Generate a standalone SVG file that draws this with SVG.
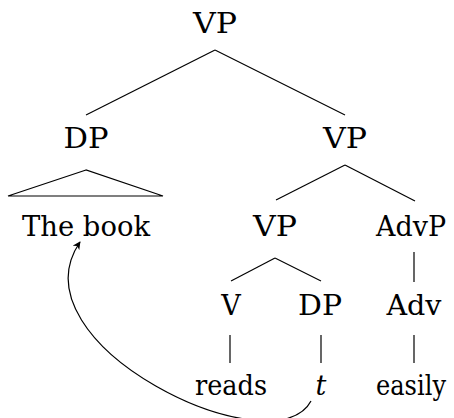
<svg xmlns="http://www.w3.org/2000/svg" width="454" height="418" viewBox="0 0 454 418">
  <style>
    .lbl { font-family: "DejaVu Serif", "Liberation Serif", serif; font-size: 27px; fill: #000; text-anchor: middle; }
    .it { font-style: italic; }
    .edge { stroke: #000; stroke-width: 1.2; fill: none; }
  </style>
  <defs>
    <marker id="head" viewBox="0 0 10 10" refX="9" refY="5" markerWidth="8" markerHeight="8" orient="auto" markerUnits="userSpaceOnUse">
      <path d="M0,0 L10,5 L0,10 L3,5 Z" fill="#000"/>
    </marker>
  </defs>

  <!-- tree branches -->
  <g id="connectors">
    <line class="edge" x1="215" y1="50" x2="86" y2="115"/>
    <line class="edge" x1="215" y1="50" x2="345" y2="115"/>
    <path class="edge" d="M86,170 L8,196 L163,196 Z"/>
    <line class="edge" x1="345" y1="165" x2="276" y2="200"/>
    <line class="edge" x1="345" y1="165" x2="415" y2="201"/>
    <line class="edge" x1="275" y1="258" x2="231" y2="281"/>
    <line class="edge" x1="275" y1="258" x2="321" y2="281"/>
    <line class="edge" x1="414" y1="252" x2="414" y2="282"/>
    <line class="edge" x1="230" y1="335" x2="230" y2="363"/>
    <line class="edge" x1="321" y1="335" x2="321" y2="363"/>
    <line class="edge" x1="414" y1="335" x2="414" y2="363"/>
    <!-- movement arrow from the trace back to the fronted DP -->
    <path class="edge" d="M311,401 C275,470 10,345 80,242" marker-end="url(#head)"/>
  </g>

  <g id="vp-top"><text class="lbl" x="215" y="33" textLength="44" lengthAdjust="spacingAndGlyphs">VP</text></g>
  <g id="dp-subject"><text class="lbl" x="86" y="148" textLength="45" lengthAdjust="spacingAndGlyphs">DP</text></g>
  <g id="vp-right"><text class="lbl" x="345" y="148" textLength="44" lengthAdjust="spacingAndGlyphs">VP</text></g>
  <g id="the-book"><text class="lbl" x="86" y="236" textLength="128" lengthAdjust="spacingAndGlyphs">The book</text></g>
  <g id="vp-inner"><text class="lbl" x="275" y="236" textLength="44" lengthAdjust="spacingAndGlyphs">VP</text></g>
  <g id="advp"><text class="lbl" x="411" y="236" textLength="70" lengthAdjust="spacingAndGlyphs">AdvP</text></g>
  <g id="v"><text class="lbl" x="231" y="315">V</text></g>
  <g id="dp-object"><text class="lbl" x="320" y="315" textLength="44" lengthAdjust="spacingAndGlyphs">DP</text></g>
  <g id="adv"><text class="lbl" x="414" y="315" textLength="55" lengthAdjust="spacingAndGlyphs">Adv</text></g>
  <g id="reads"><text class="lbl" x="231" y="395" textLength="72" lengthAdjust="spacingAndGlyphs">reads</text></g>
  <g id="trace"><text class="lbl it" x="321" y="395">t</text></g>
  <g id="easily"><text class="lbl" x="411" y="395" textLength="70" lengthAdjust="spacingAndGlyphs">easily</text></g>
</svg>
